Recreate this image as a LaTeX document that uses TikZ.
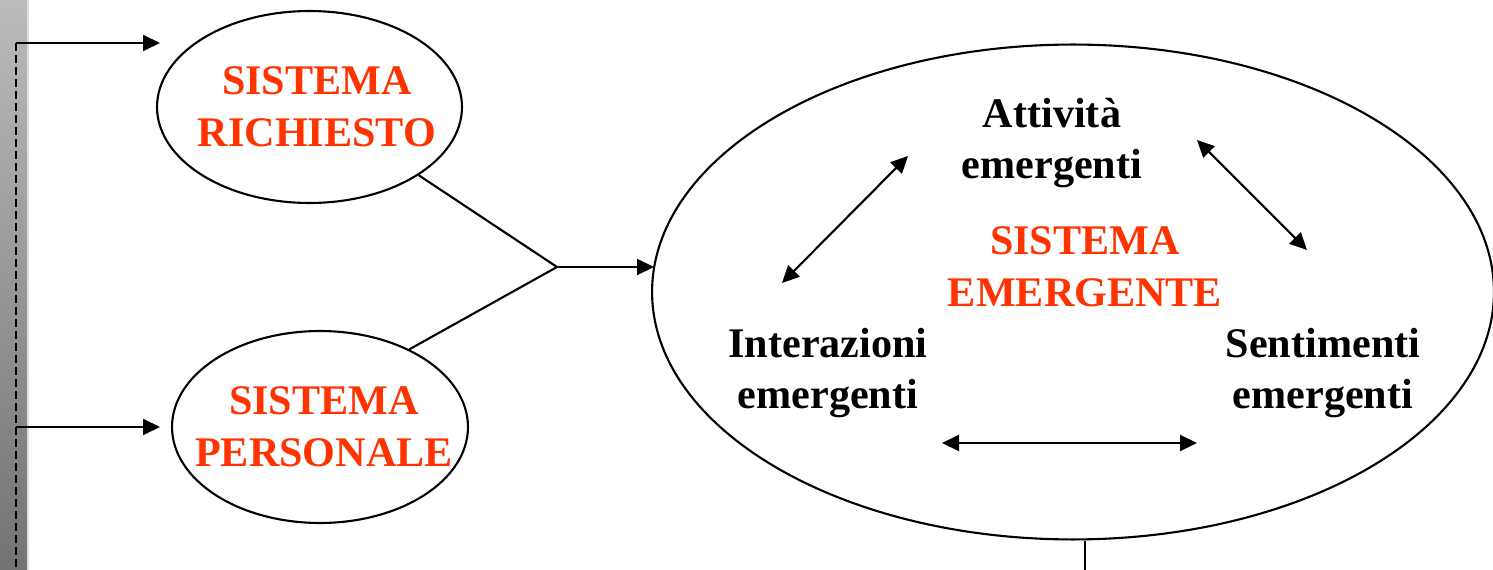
\documentclass[tikz,border=0pt]{standalone}
\usepackage{fontspec}
\setmainfont{Liberation Serif}
\usetikzlibrary{shapes.geometric,arrows.meta}
\definecolor{sysred}{HTML}{FF3300}
\definecolor{stripTop}{HTML}{BBBBBB}
\definecolor{stripBot}{HTML}{737373}
\begin{document}
\begin{tikzpicture}[x=0.02cm,y=-0.02cm,
  conn/.style={line width=1.2pt,draw=black},
  tip/.style={-{Triangle[length=0.34cm,width=0.32cm]}},
  dtip/.style={{Triangle[length=0.34cm,width=0.32cm]}-{Triangle[length=0.34cm,width=0.32cm]}},
  sysell/.style={ellipse,draw=black,line width=1.2pt,inner sep=0pt},
  redlbl/.style={text=sysred,font=\bfseries\fontsize{24}{29.5}\selectfont,align=center,inner sep=0pt},
  blklbl/.style={text=black,font=\bfseries\fontsize{24}{29.5}\selectfont,align=center,inner sep=0pt}]
\useasboundingbox (0,0) rectangle (1493,570);
% left strip
\shade[top color=stripTop,bottom color=stripBot] (0,0) rectangle (27,570);
\fill[black!13] (27,0) rectangle (29,570);
% ellipses
\node[sysell,minimum width=6.1cm,minimum height=3.84cm] (rich) at (309.5,107) {};
\node[sysell,minimum width=5.92cm,minimum height=3.84cm] (pers) at (320,427) {};
\node[sysell,minimum width=16.84cm,minimum height=9.9cm] (emer) at (1073,292) {};
% labels
\node[redlbl] (richl) at (317,107) {SISTEMA\\RICHIESTO};
\node[redlbl] (persl) at (324,427) {SISTEMA\\PERSONALE};
\node[redlbl] (emerl) at (1085,267) {SISTEMA\\EMERGENTE};
\node[blklbl] (att) at (1052,143) {Attività\\emergenti};
\node[blklbl] (inter) at (828,373) {Interazioni\\emergenti};
\node[blklbl] (sent) at (1323,373) {Sentimenti\\emergenti};
% left feedback line
\coordinate (top) at (16,43);
\coordinate (mid) at (16,427);
\coordinate (bot) at (16,570);
\draw[line width=1.2pt,dash pattern=on 0.16cm off 0.08cm] (top) -- (bot);
\draw[conn,tip] (top) -- (160,43) coordinate (richin);
\draw[conn,tip] (mid) -- (160,427) coordinate (persin);
% merge
\coordinate (J) at (557,267);
\coordinate (ein) at (654,267);
\draw[conn] (rich.-32) -- (J);
\draw[conn] (pers.41) -- (J);
\draw[conn,tip] (J) -- (ein);
% inner arrows
\coordinate (a1) at (782,283);
\coordinate (a2) at (908,156);
\coordinate (b1) at (1197,140);
\coordinate (b2) at (1307,250);
\coordinate (c1) at (942,443);
\coordinate (c2) at (1197,443);
\draw[conn,dtip] (a1) -- (a2);
\draw[conn,dtip] (b1) -- (b2);
\draw[conn,dtip] (c1) -- (c2);
% bottom exit
\coordinate (out) at (1085,570);
\draw[conn] (emer.south -| out) -- (out);
\end{tikzpicture}
\end{document}
